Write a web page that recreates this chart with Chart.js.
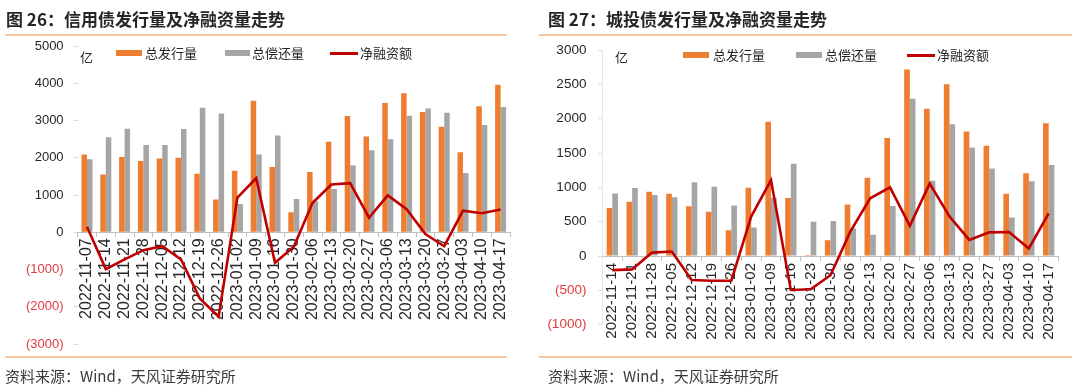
<!DOCTYPE html>
<html>
<head>
<meta charset="utf-8">
<script src="https://cdn.jsdelivr.net/npm/chart.js@4.4.0/dist/chart.umd.min.js"></script>
<style>
  body { margin: 0; background: #fff; }
  #wrap { position: relative; width: 1080px; height: 389px; overflow: hidden; font-family: "Noto Sans CJK SC", "Noto Sans", sans-serif; color: #262626; }
  canvas { position: absolute; top: 0; }
  .title { position: absolute; top: 8px; font-size: 17px; font-weight: bold; line-height: 22px; color: #262626; white-space: nowrap; }
  .rule { position: absolute; height: 2px; background: #f8c49c; }
  .src { position: absolute; top: 366px; font-size: 15px; line-height: 20px; color: #3a3a3a; white-space: nowrap; }
  .lg { position: absolute; font-size: 13px; line-height: 16px; white-space: nowrap; color: #262626; }
  .sw { position: absolute; }
</style>
</head>
<body>
<div id="wrap">
  <canvas id="c1" width="540" height="389" style="left:0"></canvas>
  <canvas id="c2" width="540" height="389" style="left:540px"></canvas>

  <div class="title" style="left:6px">图 26：信用债发行量及净融资量走势</div>
  <div class="title" style="left:548px">图 27：城投债发行量及净融资量走势</div>
  <div class="rule" style="left:5px; width:502px; top:34px"></div>
  <div class="rule" style="left:539px; width:533px; top:34px"></div>
  <div class="rule" style="left:5px; width:502px; top:356px"></div>
  <div class="rule" style="left:539px; width:533px; top:356px"></div>
  <div class="src" style="left:5px">资料来源：Wind，天风证券研究所</div>
  <div class="src" style="left:548px">资料来源：Wind，天风证券研究所</div>

  <!-- legends -->
  <div class="lg" style="left:80px; top:49px">亿</div>
  <div class="sw" style="left:116px; top:50px; width:26px; height:6px; background:#ed7d31"></div>
  <div class="lg" style="left:145px; top:45px">总发行量</div>
  <div class="sw" style="left:225px; top:50px; width:25px; height:6px; background:#a5a5a5"></div>
  <div class="lg" style="left:252px; top:45px">总偿还量</div>
  <div class="sw" style="left:330px; top:52px; width:28px; height:3px; background:#c00000"></div>
  <div class="lg" style="left:360px; top:45px">净融资额</div>

  <div class="lg" style="left:615px; top:49px">亿</div>
  <div class="sw" style="left:683px; top:52px; width:26px; height:6px; background:#ed7d31"></div>
  <div class="lg" style="left:713px; top:47px">总发行量</div>
  <div class="sw" style="left:796px; top:52px; width:26px; height:6px; background:#a5a5a5"></div>
  <div class="lg" style="left:825px; top:47px">总偿还量</div>
  <div class="sw" style="left:907px; top:54px; width:28px; height:3px; background:#c00000"></div>
  <div class="lg" style="left:937px; top:47px">净融资额</div>
</div>

<script>
// 图 26 信用债
const creditDates = ['2022-11-07','2022-11-14','2022-11-21','2022-11-28','2022-12-05','2022-12-12','2022-12-19','2022-12-26','2023-01-02','2023-01-09','2023-01-16','2023-01-30','2023-02-06','2023-02-13','2023-02-20','2023-02-27','2023-03-06','2023-03-13','2023-03-20','2023-03-27','2023-04-03','2023-04-10','2023-04-17'];
const creditIssue = [2090,1550,2020,1910,1980,2000,1570,880,1650,3530,1750,540,1620,2430,3120,2570,3470,3730,3230,2830,2150,3380,3960];
const creditRepay = [1960,2550,2780,2340,2340,2770,3340,3190,760,2090,2600,890,830,1160,1800,2200,2500,3130,3320,3210,1590,2880,3360];
const creditNet = [150,-990,-730,-480,-375,-730,-1780,-2270,930,1450,-820,-390,790,1280,1320,390,990,620,-50,-375,580,510,610];

// 图 27 城投债
const lgfvDates = ['2022-11-14','2022-11-21','2022-11-28','2022-12-05','2022-12-12','2022-12-19','2022-12-26','2023-01-02','2023-01-09','2023-01-16','2023-01-23','2023-01-30','2023-02-06','2023-02-13','2023-02-20','2023-02-27','2023-03-06','2023-03-13','2023-03-20','2023-03-27','2023-04-03','2023-04-10','2023-04-17'];
const lgfvIssue = [700,790,935,905,725,645,375,995,1955,845,15,230,750,1140,1720,2715,2145,2500,1815,1605,905,1205,1935];
const lgfvRepay = [910,990,890,855,1075,1010,735,415,850,1345,500,510,400,310,730,2290,1095,1920,1580,1275,560,1090,1325];
const lgfvNet = [-205,-195,50,65,-350,-360,-360,575,1105,-495,-485,-280,355,840,1000,440,1055,575,235,345,350,110,620];

// y axis ticks
const creditTicks = { min: -3000, max: 5000, step: 1000 };
const lgfvTicks = { min: -1000, max: 3000, step: 500 };

const ORANGE = '#ed7d31', GREY = '#a5a5a5', RED = '#c00000', NEG = '#e0393e';

function makeChart(id, labels, issue, repay, net, yt, opt) {
  const ctx = document.getElementById(id).getContext('2d');
  return new Chart(ctx, {
    type: 'bar',
    data: {
      labels: labels,
      datasets: [
        { type: 'line', label: '净融资额', data: net, borderColor: RED, borderWidth: 2.6,
          pointRadius: 0, tension: 0, fill: false, order: 0 },
        { label: '总发行量', data: issue, backgroundColor: ORANGE, order: 1,
          barPercentage: 1, categoryPercentage: opt.catPct },
        { label: '总偿还量', data: repay, backgroundColor: GREY, order: 1,
          barPercentage: 1, categoryPercentage: opt.catPct }
      ]
    },
    options: {
      responsive: false,
      animation: false,
      layout: { padding: opt.padding },
      plugins: { legend: { display: false }, tooltip: { enabled: false } },
      scales: {
        x: {
          position: { y: 0 },
          offset: true,
          afterFit: s => { s.height = 0; },
          grid: { drawOnChartArea: false, offset: true, tickLength: 4, color: '#bfbfbf' },
          border: { color: '#bfbfbf' },
          ticks: {
            autoSkip: false, minRotation: 90, maxRotation: 90, padding: opt.xPad,
            color: '#262626', font: { family: 'Liberation Sans', size: opt.xFont }
          }
        },
        y: {
          position: 'left',
          min: yt.min, max: yt.max,
          afterFit: s => { s.width = opt.yWidth; },
          grid: { drawOnChartArea: false, tickLength: 4, color: '#d9d9d9' },
          border: { display: opt.yBorder, color: '#e6e6e6' },
          ticks: {
            stepSize: yt.step, padding: opt.yPad,
            font: { family: 'Liberation Sans', size: opt.yFont },
            color: c => c.tick.value < 0 ? NEG : '#262626',
            callback: v => v < 0 ? '(' + (-v) + ')' : String(v)
          }
        }
      }
    }
  });
}

makeChart('c1', creditDates, creditIssue, creditRepay, creditNet, creditTicks, {
  catPct: 0.585, padding: { left: 0, right: 30, top: 46, bottom: 45 },
  yWidth: 77.6, yPad: 10, yFont: 13, xFont: 16, xPad: 2, yBorder: false
});
makeChart('c2', lgfvDates, lgfvIssue, lgfvRepay, lgfvNet, lgfvTicks, {
  catPct: 0.57, padding: { left: 0, right: 21.4, top: 50, bottom: 64.3 },
  yWidth: 62.4, yPad: 12, yFont: 13.5, xFont: 15, xPad: 3, yBorder: true
});
</script>
</body>
</html>
